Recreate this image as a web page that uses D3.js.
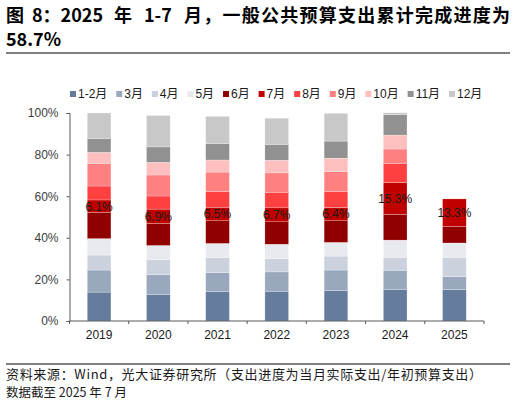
<!doctype html>
<html>
<head>
  <meta charset="utf-8">
  <title>一般公共预算支出累计完成进度</title>
  <style>
    html, body { margin: 0; padding: 0; background: #fff; }
    svg { display: block; }
    text { font-family: "Liberation Sans", Arial, "Noto Sans CJK SC", sans-serif; }
    .cjk { font-family: "Noto Sans CJK SC", "Liberation Sans", sans-serif; }
  </style>
</head>
<body>
  <svg id="chart" width="516" height="403"></svg>

  <script src="https://d3js.org/d3.v7.min.js"></script>
  <script>

    // ---- data (% of annual budget spent in each month) ----
    var years = ["2019", "2020", "2021", "2022", "2023", "2024", "2025"];
    var months = ["1-2月", "3月", "4月", "5月", "6月", "7月", "8月", "9月", "10月", "11月", "12月"];

    var m1_2 = [13.9, 12.8, 14.1, 14.3, 14.6, 15.0, 15.1];
    var m3   = [10.6,  9.4,  9.1,  9.3,  9.9,  9.4,  6.2];
    var m4   = [ 7.2,  7.2,  7.2,  6.4,  6.7,  6.2,  9.3];
    var m5   = [ 7.9,  6.9,  6.9,  6.9,  6.6,  8.3,  6.9];
    var m6   = [12.5, 10.6, 10.9, 10.8, 10.4, 12.4,  7.9];
    var m7   = [ 6.1,  6.9,  6.5,  6.7,  6.4, 15.3, 13.3];
    var m8   = [ 6.7,  6.3,  7.5,  7.5,  7.7,  9.2, null];
    var m9   = [10.9, 10.1,  9.4,  9.3,  9.5,  6.9, null];
    var m10  = [ 5.3,  6.1,  5.8,  6.1,  6.5,  6.7, null];
    var m11  = [ 6.5,  7.4,  7.8,  7.6,  8.2,  9.8, null];
    var m12  = [12.4, 15.1, 13.2, 12.6, 13.4,  0.9, null];

    var series = [m1_2, m3, m4, m5, m6, m7, m8, m9, m10, m11, m12];
    var yTicks = [0, 20, 40, 60, 80, 100];

    var colors = ["#657c9c", "#99a8bd", "#cbd2de", "#e9eaef", "#900000", "#c00000",
                  "#ff4040", "#ff8080", "#ffbfbf", "#919191", "#c8c8c8"];

    // build table for d3.stack
    var table = years.map(function(y, i) {
      var row = { year: y, idx: i };
      months.forEach(function(m, j) { row[m] = series[j][i] || 0; });
      return row;
    });
    var stacked = d3.stack().keys(months)(table);

    var svg = d3.select("#chart");

    // ---- title ----
    var title = svg.append("text").attr("class", "cjk")
        .attr("y", 21.5)
        .style("font-size", "18px")
        .style("font-weight", "bold")
        .attr("fill", "#000");
    title.append("tspan").attr("x", 6).text("图");
    title.append("tspan").attr("x", 32).text("8：2025");
    title.append("tspan").attr("x", 114).text("年");
    title.append("tspan").attr("x", 144).text("1-7");
    title.append("tspan").attr("x", 184)
        .attr("textLength", 326).attr("lengthAdjust", "spacing")
        .text("月，一般公共预算支出累计完成进度为");
    svg.append("text").attr("class", "cjk")
        .attr("x", 6).attr("y", 46)
        .style("font-size", "18px")
        .style("font-weight", "bold")
        .text("58.7%");
    svg.append("line")
        .attr("x1", 6).attr("x2", 510)
        .attr("y1", 53).attr("y2", 53)
        .attr("stroke", "#000").attr("stroke-width", 1);

    // ---- scales ----
    var x = d3.scaleBand()
        .domain(years)
        .range([69.5, 484])
        .paddingInner(0.6)
        .paddingOuter(0.3);

    var y = d3.scaleLinear()
        .domain([0, 100])
        .range([321, 113]);

    // ---- bars ----
    var layer = svg.append("g").selectAll("g")
        .data(stacked)
        .join("g")
        .attr("fill", function(d, i) { return colors[i]; });

    layer.selectAll("rect")
        .data(function(d) { return d.filter(function(p) { return p[1] > p[0]; }); })
        .join("rect")
        .attr("x", function(d) { return x(d.data.year); })
        .attr("width", x.bandwidth())
        .attr("y", function(d) { return y(d[1]); })
        .attr("height", function(d) { return y(d[0]) - y(d[1]); })
        .attr("stroke", "#fff")
        .attr("stroke-width", 0.4)
        .attr("stroke-opacity", 0.6);

    // 7月 labels
    var july = stacked[months.indexOf("7月")];
    svg.append("g").selectAll("text")
        .data(july)
        .join("text")
        .attr("x", function(d) { return x(d.data.year) + x.bandwidth() / 2; })
        .attr("y", function(d) { return y((d[0] + d[1]) / 2); })
        .attr("dy", "0.36em")
        .attr("text-anchor", "middle")
        .style("font-size", "12px")
        .attr("fill", "#1a1a1a")
        .text(function(d) { return m7[d.data.idx].toFixed(1) + "%"; });

    // ---- axes ----
    var yAxis = svg.append("g")
        .attr("transform", "translate(69.5,0)")
        .call(d3.axisLeft(y).tickValues(yTicks).tickSize(3).tickPadding(8)
          .tickFormat(function(d) { return d + "%"; }));
    yAxis.selectAll("text").style("font-size", "12px").attr("fill", "#404040")
        .style("font-family", "'Liberation Sans', Arial, sans-serif");

    var bounds = years.map(function(yr) { return x(yr) - x.step() * 0.3; });
    bounds.push(bounds[bounds.length - 1] + x.step());

    var xAxis = svg.append("g").attr("transform", "translate(0,321)");
    xAxis.append("line")
        .attr("x1", 69.5).attr("x2", bounds[bounds.length - 1])
        .attr("stroke", "#595959");
    xAxis.selectAll(".tick")
        .data(bounds)
        .join("line")
        .attr("x1", function(d) { return d; }).attr("x2", function(d) { return d; })
        .attr("y1", 0).attr("y2", 3)
        .attr("stroke", "#595959");
    xAxis.selectAll(".lab")
        .data(years)
        .join("text")
        .attr("x", function(d) { return x(d) + x.bandwidth() / 2; })
        .attr("y", 18)
        .attr("text-anchor", "middle")
        .style("font-size", "12px")
        .attr("fill", "#1a1a1a")
        .text(function(d) { return d; });

    yAxis.select(".domain").attr("stroke", "#595959");
    yAxis.selectAll(".tick line").attr("stroke", "#595959");

    // ---- legend ----
    var legend = svg.append("g").attr("transform", "translate(70,94)");
    var lx = 0;
    months.forEach(function(m, i) {
      var g = legend.append("g").attr("transform", "translate(" + lx + ",0)");
      g.append("rect")
          .attr("x", 0).attr("y", -3)
          .attr("width", 6).attr("height", 6)
          .attr("fill", colors[i]);
      var t = g.append("text")
          .attr("x", 8).attr("dy", "0.36em")
          .style("font-size", "12px")
          .attr("fill", "#1a1a1a")
          .text(m);
      lx += 8 + t.node().getComputedTextLength() + 8.9;
    });

    // ---- footer ----
    svg.append("line")
        .attr("x1", 6).attr("x2", 510)
        .attr("y1", 364).attr("y2", 364)
        .attr("stroke", "#000").attr("stroke-width", 1);
    svg.append("text").attr("class", "cjk")
        .attr("x", 6).attr("y", 379)
        .attr("textLength", 476).attr("lengthAdjust", "spacing")
        .style("font-size", "13px")
        .attr("fill", "#1a1a1a")
        .text("资料来源：Wind，光大证券研究所（支出进度为当月实际支出/年初预算支出）");
    svg.append("text").attr("class", "cjk")
        .attr("x", 6).attr("y", 397)
        .style("font-size", "12.5px")
        .attr("fill", "#1a1a1a")
        .text("数据截至 2025 年 7 月");

  </script>
</body>
</html>
